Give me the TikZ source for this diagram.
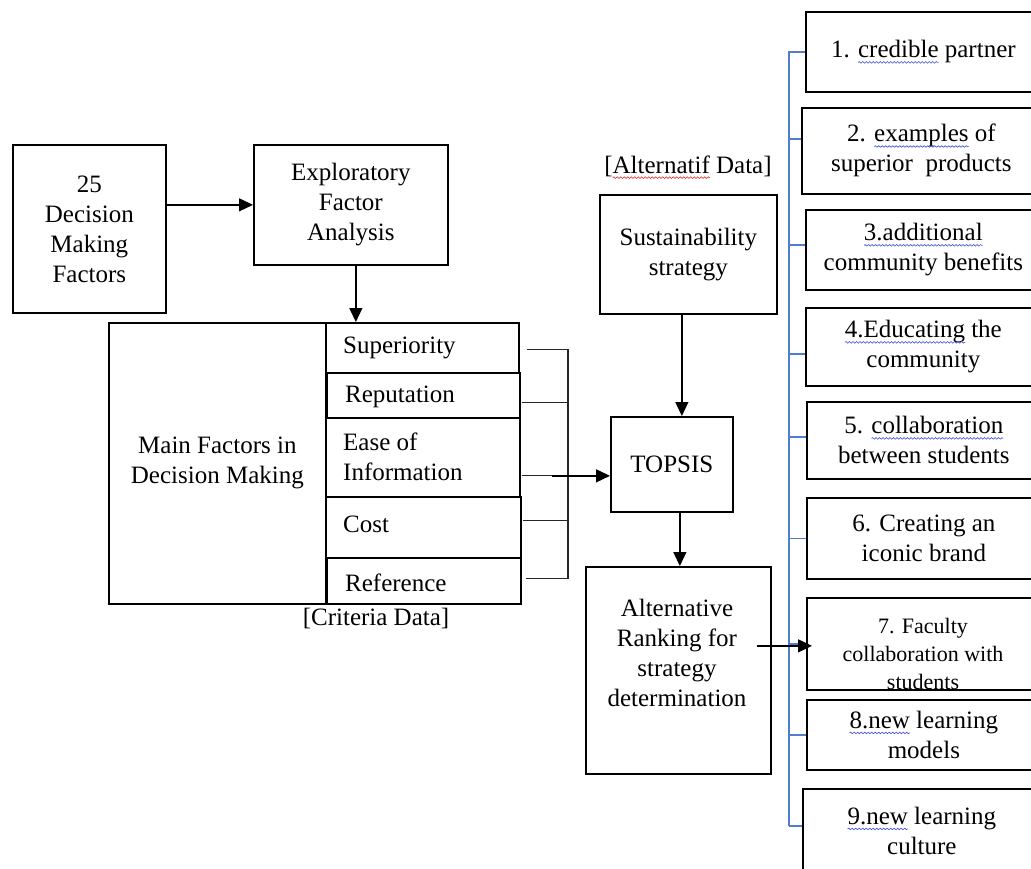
\documentclass[tikz,border=0pt]{standalone}
\usepackage{fontspec}
\setmainfont{Liberation Serif}
\usetikzlibrary{arrows.meta,calc,decorations.pathmorphing}
\definecolor{sqblue}{RGB}{60,80,220}
\definecolor{sqred}{RGB}{220,40,40}
\definecolor{busblue}{RGB}{80,125,205}
\newlength\sqlen
\newcommand\sqw[2]{\setbox0\hbox{#2}\setlength\sqlen{\wd0}\rlap{\box0}\tikz[baseline=0pt]{\useasboundingbox (0pt,0pt) rectangle (\the\sqlen,0pt); \draw[#1, line width=0.6pt, decorate, decoration={snake, segment length=3.5pt, amplitude=0.8pt}] (0pt,-4.5pt) -- (\the\sqlen,-4.5pt);}}
\newcommand\sqb[1]{\sqw{sqblue}{#1}}
\newcommand\sqr[1]{\sqw{sqred}{#1}}
\tikzset{
  box/.style={draw, line width=1.7pt, inner sep=0pt, anchor=north west, align=center,
    font=\fontsize{25}{30}\selectfont},
  txt/.style={inner sep=0pt, align=center, font=\fontsize{25}{30}\selectfont},
  ltxt/.style={inner sep=0pt, align=left, anchor=west, font=\fontsize{25}{30}\selectfont},
  arr/.style={-{Triangle[length=14pt,width=13pt]}, line width=1.3pt},
  brk/.style={line width=1.1pt, black!85},
  bus/.style={line width=1.3pt, busblue}
}
\begin{document}
\begin{tikzpicture}[x=1pt,y=-1pt]
\useasboundingbox (0,0) rectangle (1031,868);
\fill[white] (0,0) rectangle (1031,868);

% left part
\node[box, minimum width=153pt, minimum height=168pt] (f25) at (12,144) {25\\Decision\\Making\\Factors};
\node[box, minimum width=194pt, minimum height=120pt] (efa) at (253,144) {Exploratory\\Factor\\Analysis};
\node[box, minimum width=217pt, minimum height=281pt] (mainL) at (108,322) {Main Factors in\\Decision Making};
\node[box, minimum width=193pt, minimum height=50pt] (sup) at (325,322) {};
\node[box, minimum width=193pt, minimum height=45pt] (rep) at (326,372) {};
\node[box, minimum width=194pt, minimum height=79pt] (ease) at (325,417) {};
\node[box, minimum width=195pt, minimum height=61pt] (cost) at (325,496) {};
\node[box, minimum width=194pt, minimum height=46pt] (ref) at (326,557) {};
\node[ltxt] at (343,348) {Superiority};
\node[ltxt] at (345,397) {Reputation};
\node[ltxt] at (343,457) {Ease of\\Information};
\node[ltxt] at (343,524) {Cost};
\node[ltxt] at (345,583) {Reference};
\node[txt] (crit) at (376,618) {[Criteria Data]};

% middle
\node[txt] (altdata) at (688,166) {[\sqr{Alternatif} Data]};
\node[box, minimum width=177pt, minimum height=119pt] (sust) at (599,194) {Sustainability\\strategy};
\node[box, minimum width=122pt, minimum height=95pt] (topsis) at (610,416) {TOPSIS};
\node[box, minimum width=185pt, minimum height=207pt] (alt) at (585,566) {};
\node[txt] at (677,653) {Alternative\\Ranking for\\strategy\\determination};

% right column
\node[box, minimum width=235pt, minimum height=80pt] (b1) at (805,11) {1. \sqb{credible} partner};
\node[box, minimum width=239pt, minimum height=86pt] (b2) at (801,107) {2. \sqb{examples} of\\superior~ products};
\node[box, minimum width=235pt, minimum height=80pt] (b3) at (805,209) {\sqb{3.additional}\\community benefits};
\node[box, minimum width=235pt, minimum height=78pt] (b4) at (805,307) {\sqb{4.Educating} the\\community};
\node[box, minimum width=234pt, minimum height=77pt] (b5) at (806,401) {5. \sqb{collaboration}\\between students};
\node[box, minimum width=234pt, minimum height=81pt] (b6) at (806,497) {6. Creating an\\iconic brand};
\node[box, minimum width=234pt, minimum height=92pt] (b7) at (806,597) {};
\begin{scope}
\clip (b7.north west) rectangle (b7.south east);
\node[txt, font=\fontsize{22}{28}\selectfont] at (923,654) {7. Faculty\\collaboration with\\students};
\end{scope}
\node[box, minimum width=234pt, minimum height=70pt] (b8) at (806,699) {\sqb{8.new} learning\\models};
\node[box, minimum width=238pt, minimum height=84pt] (b9) at (802,788) {\sqb{9.new} learning\\culture};

% arrows
\draw[arr] (f25.east |- efa.west) -- (efa.west);
\coordinate (e1) at ([xshift=5pt]efa.south);
\draw[arr] (e1) -- (e1 |- mainL.north);

% bracket
\coordinate (bx) at (568,0);
\coordinate (c1) at ($(sup.east)+(7,2)$);
\coordinate (c2) at ($(rep.east)+(1,7.5)$);
\coordinate (c3) at ($(ease.east)+(1,18.5)$);
\coordinate (c4) at ($(cost.east)+(1,-6.5)$);
\coordinate (c5) at ($(ref.east)+(4,-2.5)$);
\draw[brk] (c1) -- (c1 -| bx) -- (c5 -| bx) -- (c5);
\draw[brk] (c2) -- (c2 -| bx);
\draw[brk] (c3) -- (c3 -| bx);
\draw[brk] (c4) -- (c4 -| bx);
\coordinate (a0) at ($(ease.east)+(31,18.5)$);
\draw[arr] (a0) -- (a0 -| topsis.west);

\coordinate (s1) at ([xshift=-6.5pt]sust.south);
\draw[arr] (s1) -- (s1 |- topsis.north);
\coordinate (t1) at ([xshift=8pt]topsis.south);
\draw[arr] (t1) -- (t1 |- alt.north);

% blue bus
\coordinate (bus) at (789,0);
\draw[bus] (789,51) -- (789,826);
\draw[bus] (b1.west) -- (b1.west -| bus);
\coordinate (k2) at ($(b2.west)+(0,-12)$);
\draw[bus] (k2) -- (k2 -| bus);
\coordinate (k3) at ($(b3.west)+(0,-5)$);
\draw[bus] (k3) -- (k3 -| bus);
\coordinate (k4) at ($(b4.west)+(0,7)$);
\draw[bus] (k4) -- (k4 -| bus);
\coordinate (k5) at ($(b5.west)+(0,-3.5)$);
\draw[bus] (k5) -- (k5 -| bus);
\draw[bus] (b6.west) -- (b6.west -| bus);
\draw[bus] (b7.west) -- (b7.west -| bus);
\draw[bus] (b8.west) -- (b8.west -| bus);
\coordinate (k9) at ($(b9.west)+(0,-5)$);
\draw[bus] (k9) -- (k9 -| bus);

% alt -> 7
\coordinate (r0) at ($(alt.east)+(-15,-24.5)$);
\coordinate (r1) at ($(b7.west)+(6,0)$);
\draw[arr] (r0) -- (r0 -| r1);
\end{tikzpicture}
\end{document}
